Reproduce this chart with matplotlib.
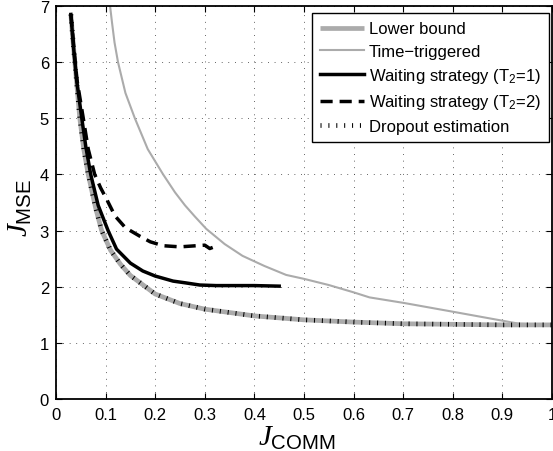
import matplotlib
matplotlib.use("Agg")
from matplotlib import pyplot

lower_x = [0.03, 0.035, 0.04, 0.048, 0.056, 0.065, 0.08, 0.092, 0.11, 0.13, 0.15,
           0.2, 0.25, 0.3, 0.4, 0.5, 0.6, 0.7, 0.8, 0.9, 1.0]
lower_y = [6.85, 6.3, 5.8, 5.0, 4.45, 4.0, 3.4, 3.0, 2.65, 2.4, 2.2,
           1.87, 1.7, 1.6, 1.48, 1.41, 1.37, 1.34, 1.33, 1.32, 1.32]

time_x = [0.109, 0.113, 0.118, 0.125, 0.14, 0.159, 0.185, 0.216, 0.24, 0.26, 0.28,
          0.303, 0.34, 0.376, 0.42, 0.464, 0.5, 0.55, 0.6, 0.632, 0.702, 0.803,
          0.903, 0.934, 1.0]
time_y = [7.0, 6.7, 6.35, 6.0, 5.45, 5.0, 4.45, 4.0, 3.68, 3.45, 3.25,
          3.03, 2.76, 2.55, 2.37, 2.21, 2.14, 2.03, 1.9, 1.81, 1.71, 1.55,
          1.39, 1.34, 1.32]

wait1_x = [0.03, 0.036, 0.042, 0.052, 0.06, 0.07, 0.085, 0.105, 0.122, 0.15, 0.175,
           0.2, 0.236, 0.26, 0.29, 0.323, 0.357, 0.4, 0.45]
wait1_y = [6.85, 6.2, 5.65, 5.0, 4.5, 4.0, 3.45, 3.0, 2.67, 2.42, 2.28,
           2.19, 2.1, 2.07, 2.03, 2.02, 2.02, 2.02, 2.01]

wait2_x = [0.03, 0.036, 0.042, 0.055, 0.065, 0.078, 0.09, 0.102, 0.119, 0.14, 0.169,
           0.19, 0.216, 0.25, 0.283, 0.3, 0.31, 0.316]
wait2_y = [6.85, 6.25, 5.7, 5.0, 4.45, 4.0, 3.76, 3.56, 3.26, 3.05, 2.9,
           2.8, 2.73, 2.71, 2.73, 2.74, 2.68, 2.7]

dropout_x = [0.03, 0.035, 0.04, 0.048, 0.056, 0.065, 0.08, 0.092, 0.11, 0.13, 0.15,
             0.2, 0.25, 0.3, 0.4, 0.5, 0.6, 0.7, 0.8, 0.9, 1.0]
dropout_y = [6.85, 6.3, 5.8, 5.0, 4.45, 4.0, 3.4, 3.0, 2.65, 2.4, 2.2,
             1.87, 1.7, 1.6, 1.48, 1.41, 1.37, 1.34, 1.33, 1.32, 1.32]

labels = ["Lower bound", "Time\u2212triggered", "Waiting strategy (T$_2$=1)",
          "Waiting strategy (T$_2$=2)", "Dropout estimation"]

x_ticks = [0, 0.1, 0.2, 0.3, 0.4, 0.5, 0.6, 0.7, 0.8, 0.9, 1]
x_ticklabels = ["0", "0.1", "0.2", "0.3", "0.4", "0.5", "0.6", "0.7", "0.8", "0.9", "1"]
y_ticks = [0, 1, 2, 3, 4, 5, 6, 7]

pyplot.rcParams["font.family"] = ["Liberation Sans", "DejaVu Sans"]
pyplot.rcParams["mathtext.fontset"] = "custom"
pyplot.rcParams["mathtext.rm"] = "Liberation Sans"
pyplot.rcParams["mathtext.it"] = "Liberation Serif:italic"

gray = "#ababab"

fig = pyplot.figure(figsize=(5.53, 4.52), dpi=100)
ax = fig.add_axes([56 / 553, 52 / 452, 496 / 553, 393 / 452])

ax.plot(lower_x, lower_y, color=gray, linewidth=3.4, solid_capstyle="butt", label=labels[0])
ax.plot(time_x, time_y, color=gray, linewidth=1.5, label=labels[1])
ax.plot(wait1_x, wait1_y, color="black", linewidth=2.5, label=labels[2])
ax.plot(wait2_x, wait2_y, color="black", linewidth=2.5, dashes=(3.5, 2.0),
        dash_capstyle="butt", label=labels[3])
ax.plot(dropout_x, dropout_y, color="black", linewidth=3.4, dashes=(0.22, 1.45),
        dash_capstyle="butt", label=labels[4])

ax.set_xlim(0, 1)
ax.set_ylim(0, 7)
ax.set_xticks(x_ticks)
ax.set_xticklabels(x_ticklabels)
ax.set_yticks(y_ticks)
ax.tick_params(direction="in", length=4, width=0.8, labelsize=12, pad=5,
               top=True, right=True)
ax.tick_params(axis="x", pad=6)
ax.grid(True, color="0.25", linewidth=0.7, linestyle=(0, (0.8, 6)))
for spine in ax.spines.values():
    spine.set_linewidth(1.3)

ax.set_xlabel(r"$J_{\mathrm{COMM}}$", fontsize=21)
ax.set_ylabel(r"$J_{\mathrm{MSE}}$", fontsize=21)
ax.xaxis.set_label_coords(0.485, -0.062)
ax.yaxis.set_label_coords(-0.045, 0.49)

leg = ax.legend(loc="upper right", bbox_to_anchor=(0.994, 0.982), borderaxespad=0,
                fontsize=12, handlelength=2.6, handletextpad=0.3, labelspacing=0.44,
                borderpad=0.5, fancybox=False, framealpha=1, edgecolor="black")
leg.get_frame().set_linewidth(1.0)

fig.savefig("out.png", dpi=100)
